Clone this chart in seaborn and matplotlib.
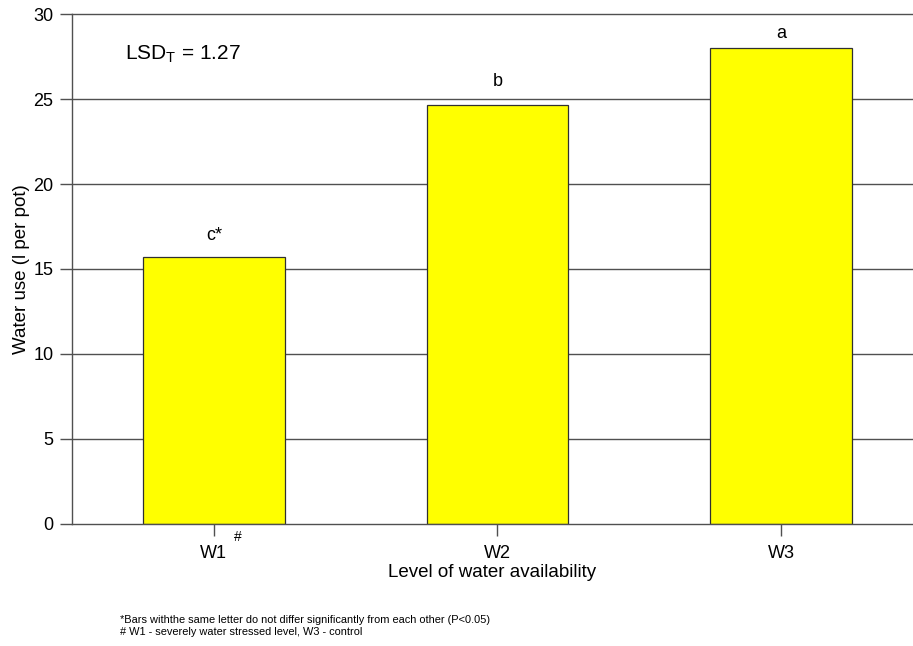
import matplotlib
matplotlib.use('Agg')
import matplotlib.pyplot as plt
import seaborn as sns
import pandas as pd

levels = ['W1', 'W2', 'W3']
water_use = [15.7, 24.65, 28.0]
letters = ['c*', 'b', 'a']
letter_gap = [0.75, 0.9, 0.35]

df = pd.DataFrame({'level': levels, 'use': water_use})

sns.set_style('ticks')
plt.rcParams['font.family'] = ['Liberation Sans', 'DejaVu Sans']
plt.rcParams['text.color'] = 'black'
plt.rcParams['axes.labelcolor'] = 'black'

line_col = '#505050'

fig = plt.figure(figsize=(9.13, 6.46), dpi=100)
ax = fig.add_axes([0.0789, 0.1889, 0.9211, 0.7894])

for y in range(5, 30, 5):
    ax.axhline(y, color=line_col, lw=1.0, zorder=0)

sns.barplot(data=df, x='level', y='use', color='#ffff00', width=0.5,
            edgecolor='#303030', linewidth=0.9, saturation=1, ax=ax, zorder=2)

for i, (v, t, g) in enumerate(zip(water_use, letters, letter_gap)):
    ax.text(i, v + g, t, ha='center', va='bottom', fontsize=13)

ax.set_ylim(0, 30)
ax.set_xlim(-0.5, 2.465)
ax.set_yticks(range(0, 31, 5))
ax.tick_params(labelsize=13, length=8.5, color=line_col, width=1.0,
               labelcolor='black')
ax.tick_params(axis='x', pad=7)
ax.tick_params(axis='y', pad=5)
ax.spines['right'].set_visible(False)
for s in ['top', 'left', 'bottom']:
    ax.spines[s].set_linewidth(1.0)
    ax.spines[s].set_color(line_col)
ax.set_xlabel('Level of water availability', fontsize=13.5, labelpad=1)
ax.set_ylabel('Water use (l per pot)', fontsize=13.5, labelpad=2)

ax.text(0.063, 0.922, r'LSD$_\mathregular{T}$ = 1.27', transform=ax.transAxes,
        fontsize=15, va='center')
ax.text(0.085, -0.012, '#', ha='center', va='top', fontsize=10,
        transform=ax.get_xaxis_transform())

fig.text(0.1314, 0.04, '*Bars withthe same letter do not differ significantly from each other (P<0.05)',
         fontsize=7.9, va='center')
fig.text(0.1314, 0.021, '# W1 - severely water stressed level, W3 - control',
         fontsize=7.9, va='center')

fig.savefig('out.png', dpi=100)
